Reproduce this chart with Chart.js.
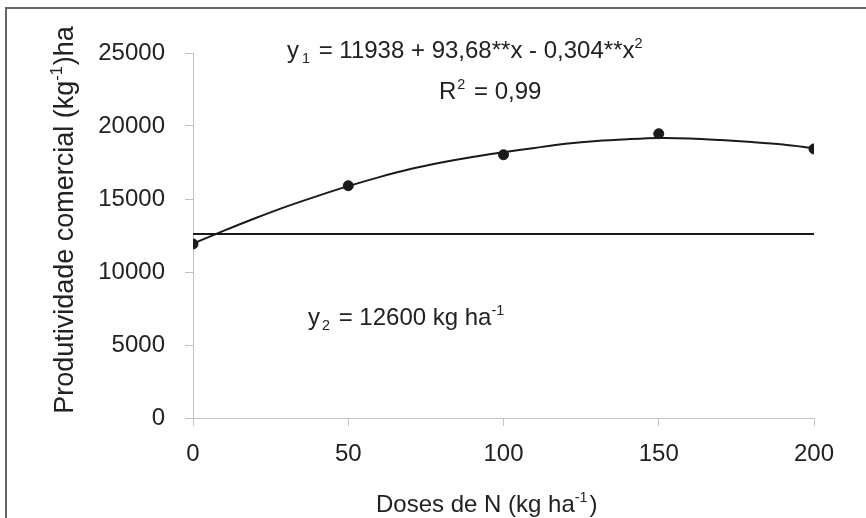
<!DOCTYPE html>
<html>
<head>
<meta charset="utf-8">
<script src="https://cdn.jsdelivr.net/npm/chart.js@4"></script>
<style>
  html, body { margin: 0; padding: 0; background: #fff; }
  canvas { display: block; }
</style>
</head>
<body>
<canvas id="chart" width="866" height="518"></canvas>
<script>
'use strict';

// observed values
const doses = [0, 50, 100, 150, 200];
const produtividade = [11920, 15910, 18030, 19470, 18430];

// fitted curve
const curveDoses = [0, 10, 20, 30, 40, 50, 60, 70, 80, 90, 100, 110, 120, 130, 140, 150, 160, 170, 180, 190, 200];
const curveFit = [11940, 12830, 13680, 14480, 15200, 15880, 16500, 17050, 17500, 17880, 18200, 18500, 18780, 18980, 19100, 19180, 19150, 19040, 18900, 18730, 18480];

// mean line y2
const meanDoses = [0, 200];
const meanLevel = [12600, 12600];

const xTicks = [0, 50, 100, 150, 200];
const yTicks = [0, 5000, 10000, 15000, 20000, 25000];

const FONT = '"Liberation Sans", Arial, sans-serif';
const INK = '#222';
const AXIS = '#c4c4c4';

function pairs(xs, ys) {
  return xs.map((x, i) => ({ x, y: ys[i] }));
}

// text pieces: [text, 'sub' | 'sup' | '', gap after]
function richWidth(ctx, parts, size) {
  let w = 0;
  parts.forEach(p => {
    const s = p[1] ? size * 0.6 : size;
    ctx.font = s + 'px ' + FONT;
    w += ctx.measureText(p[0]).width + (p[2] || 0);
  });
  return w;
}

function drawRich(ctx, x, y, parts, size) {
  let cx = x;
  parts.forEach(p => {
    const mode = p[1];
    const s = mode ? size * 0.6 : size;
    let dy = 0;
    if (mode === 'sub') dy = size * 0.22;
    if (mode === 'sup') dy = -size * 0.42;
    ctx.font = s + 'px ' + FONT;
    ctx.fillText(p[0], cx, y + dy);
    cx += ctx.measureText(p[0]).width + (p[2] || 0);
  });
}

const textPlugin = {
  id: 'textPlugin',
  beforeDraw(chart) {
    const ctx = chart.ctx;
    ctx.save();
    ctx.fillStyle = '#fff';
    ctx.fillRect(0, 0, chart.width, chart.height);
    ctx.strokeStyle = '#666';
    ctx.lineWidth = 2;
    ctx.beginPath();
    ctx.moveTo(6, 518);
    ctx.lineTo(6, 8);
    ctx.lineTo(866, 8);
    ctx.stroke();
    ctx.restore();
  },
  afterDraw(chart) {
    const ctx = chart.ctx;
    ctx.save();
    ctx.fillStyle = INK;
    ctx.textBaseline = 'alphabetic';
    ctx.textAlign = 'left';

    // equations
    drawRich(ctx, 287, 58, [['y', '', 3], ['1', 'sub', 2], [' = 11938 + 93,68**x - 0,304**x', ''], ['2', 'sup']], 24);
    drawRich(ctx, 439, 99, [['R', '', 1], ['2', 'sup', 2], [' = 0,99', '']], 24);
    drawRich(ctx, 308, 325, [['y', '', 2], ['2', 'sub', 2], [' = 12600 kg ha', ''], ['-1', 'sup']], 24);

    // x title
    drawRich(ctx, 376, 512, [['Doses de N (kg ha', ''], ['-1', 'sup', 2], [')', '']], 24);

    // y title (rotated)
    const yParts = [['Produtividade comercial (kg', ''], ['-1', 'sup', 1], [')ha', '']];
    const size = 27;
    const w = richWidth(ctx, yParts, size);
    ctx.translate(73, 220);
    ctx.rotate(-Math.PI / 2);
    drawRich(ctx, -w / 2, 0, yParts, size);
    ctx.restore();
  }
};

new Chart(document.getElementById('chart'), {
  data: {
    datasets: [
      {
        type: 'line',
        data: pairs(curveDoses, curveFit),
        borderColor: '#1a1a1a',
        borderWidth: 2,
        pointRadius: 0,
        tension: 0.3,
        fill: false,
      },
      {
        type: 'line',
        data: pairs(meanDoses, meanLevel),
        borderColor: '#1a1a1a',
        borderWidth: 2,
        pointRadius: 0,
        fill: false,
      },
      {
        type: 'scatter',
        data: pairs(doses, produtividade),
        backgroundColor: '#1a1a1a',
        borderColor: '#1a1a1a',
        pointRadius: 5,
        showLine: false,
      },
    ],
  },
  options: {
    responsive: false,
    animation: false,
    events: [],
    layout: { padding: { left: 0, right: 52, top: 53, bottom: 0 } },
    plugins: {
      legend: { display: false },
      tooltip: { enabled: false },
    },
    scales: {
      x: {
        type: 'linear',
        min: 0,
        max: 200,
        afterFit: (s) => { s.height = 100; },
        afterBuildTicks: (s) => { s.ticks = xTicks.map(v => ({ value: v })); },
        ticks: {
          color: INK,
          padding: 14,
          font: { size: 24, family: FONT },
          callback: (v) => String(v),
        },
        grid: { drawOnChartArea: false, tickLength: 8, color: AXIS },
        border: { color: AXIS },
      },
      y: {
        type: 'linear',
        min: 0,
        max: 25000,
        afterFit: (s) => { s.width = 193; },
        afterBuildTicks: (s) => { s.ticks = yTicks.map(v => ({ value: v })); },
        ticks: {
          color: INK,
          padding: 20,
          font: { size: 24, family: FONT },
          callback: (v) => String(v),
        },
        grid: { drawOnChartArea: false, tickLength: 8, color: AXIS },
        border: { color: AXIS },
      },
    },
  },
  plugins: [textPlugin],
});
</script>
</body>
</html>
